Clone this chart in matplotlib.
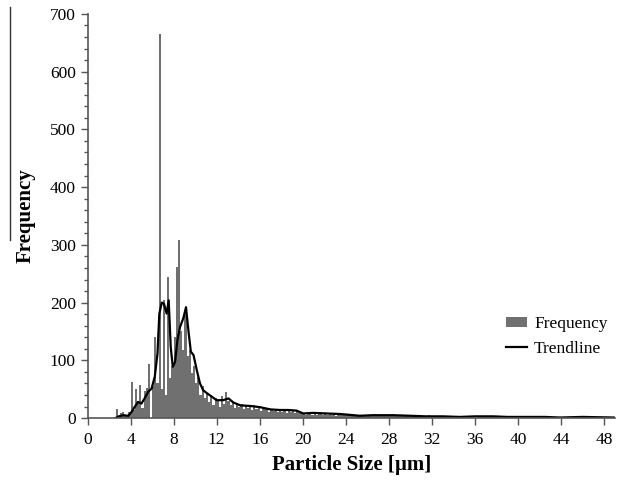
import numpy as np
import matplotlib
matplotlib.use("Agg")
import matplotlib.pyplot as plt
from matplotlib.patches import Patch
from matplotlib.lines import Line2D

# histogram bins: 0.2 um wide, first bin starts at 2.6 um
bin_start = 2.6
bin_width = 0.2
counts = [
    15, 4, 9, 11, 5, 6, 10,                      # 2.6 - 4.0
    62, 14, 50, 30, 58, 18, 47, 52, 93, 0,      # 4.0 - 6.0
    55, 141, 60, 666, 50, 205, 40, 245, 70, 90,  # 6.0 - 8.0
    140, 262, 308, 150, 118, 178, 108, 118, 78, 90,
    60, 72, 40, 55, 35, 42, 28, 40, 22, 35,
    30, 20, 38, 25, 45, 30, 22, 28, 18, 25,
    20, 24, 15, 22, 18, 20, 14, 22, 16, 20,
    12, 18, 15, 17, 10, 16, 12, 15, 11, 14,
    10, 13, 9, 14, 11, 12, 8, 12, 9, 7,
    8, 6, 9, 7, 5, 8, 6, 9, 7, 6,
    7, 5, 8, 6, 7, 4, 6, 7, 5, 6,
    5, 6, 4, 7, 5, 4, 6, 3, 5, 4,
    5, 4, 6, 3, 5, 4, 3, 5, 4, 6,
    4, 5, 3, 4, 6, 3, 4, 5, 3, 4,
    4, 3, 5, 3, 4, 2, 4, 3, 5, 3,
    3, 4, 2, 3, 4, 3, 2, 4, 3, 2,
    3, 2, 4, 2, 3, 3, 2, 3, 2, 4,
    3, 2, 3, 4, 2, 3, 2, 3, 2, 3,
    2, 3, 2, 2, 3, 2, 3, 1, 2, 3,
    2, 3, 2, 1, 2, 3, 2, 2, 1, 2,
    2, 1, 2, 2, 1, 2, 1, 2, 2, 1,
    1, 2, 1, 2, 1, 1, 2, 1, 1, 2,
    1, 1, 2, 1, 1, 2, 1, 1, 1, 2,
    1, 1, 2, 1, 1,
]

trend_x = [2.6, 2.9, 3.3, 3.8, 4.1, 4.4, 4.7, 5.0, 5.3, 5.65, 5.95, 6.25,
           6.5, 6.67, 6.9, 7.1, 7.35, 7.54, 7.73, 7.92, 8.13, 8.35, 8.6,
           8.9, 9.15, 9.37, 9.6, 9.85, 10.15, 10.45, 10.75, 11.1, 11.55,
           12.0, 12.6, 13.1, 13.55, 14.2, 15.1, 16.0, 17.0, 17.9, 18.6,
           19.4, 20.05, 21.0, 22.2, 23.5, 24.7, 25.3, 26.5, 28.4, 30.0,
           31.5, 33.0, 34.6, 36.0, 37.7, 39.0, 40.8, 42.5, 43.9, 46.0, 48.9]
trend_y = [0, 3, 5, 4, 11, 20, 28, 25, 34, 46, 51, 72,
           112, 181, 200, 198, 181, 204, 123, 89, 97, 135, 158,
           173, 192, 152, 115, 109, 83, 60, 48, 43, 37,
           31, 31, 34, 27, 22, 21, 19, 15, 14, 14,
           13, 8, 9, 8, 7, 5, 4, 5, 5, 4,
           3, 3, 2, 3, 3, 2, 2, 2, 1, 2, 1]

edges = bin_start + bin_width * np.arange(len(counts))

plt.rcParams['font.family'] = ['Liberation Serif', 'DejaVu Serif']

fig = plt.figure(figsize=(6.21, 4.8), dpi=100)
ax = fig.add_axes([0.141, 0.129, 0.849, 0.842])

ax.bar(edges, counts, width=bin_width, align='edge', color='#707070',
       linewidth=0, label='Frequency')
ax.plot(trend_x, trend_y, color='black', lw=1.6, label='Trendline')

ax.set_xlim(0, 49)
ax.set_ylim(0, 700)
ax.set_xticks(np.arange(0, 49, 4))
ax.set_yticks(np.arange(0, 701, 100))
ax.set_yticks(np.arange(0, 701, 20), minor=True)
ax.tick_params(axis='both', direction='out', labelsize=12.5, length=5,
               width=1, color='#555555')
ax.tick_params(axis='y', which='minor', direction='out', length=3,
               width=1, color='#555555')
ax.tick_params(axis='x', pad=5)
for s in ['top', 'right']:
    ax.spines[s].set_visible(False)
for s in ['left', 'bottom']:
    ax.spines[s].set_color('#555555')
    ax.spines[s].set_linewidth(1.2)

ax.set_xlabel('Particle Size [µm]', fontsize=15, fontweight='bold', labelpad=5)
ax.set_ylabel('Frequency', fontsize=15, fontweight='bold', labelpad=10)

handles = [Patch(facecolor='#707070', edgecolor='none'),
           Line2D([0], [0], color='black', lw=1.6)]
ax.legend(handles, ['Frequency', 'Trendline'], loc='upper left',
          bbox_to_anchor=(0.781, 0.27), frameon=False, fontsize=12.5,
          handlelength=1.2, handleheight=0.55, handletextpad=0.4,
          labelspacing=0.5, borderaxespad=0)

# stray rule left of the y label in the source image
fig.add_artist(Line2D([10 / 621, 10 / 621], [1 - 7 / 480, 1 - 240 / 480],
                      color='#333333', lw=1))

fig.savefig('out.png', dpi=100)
